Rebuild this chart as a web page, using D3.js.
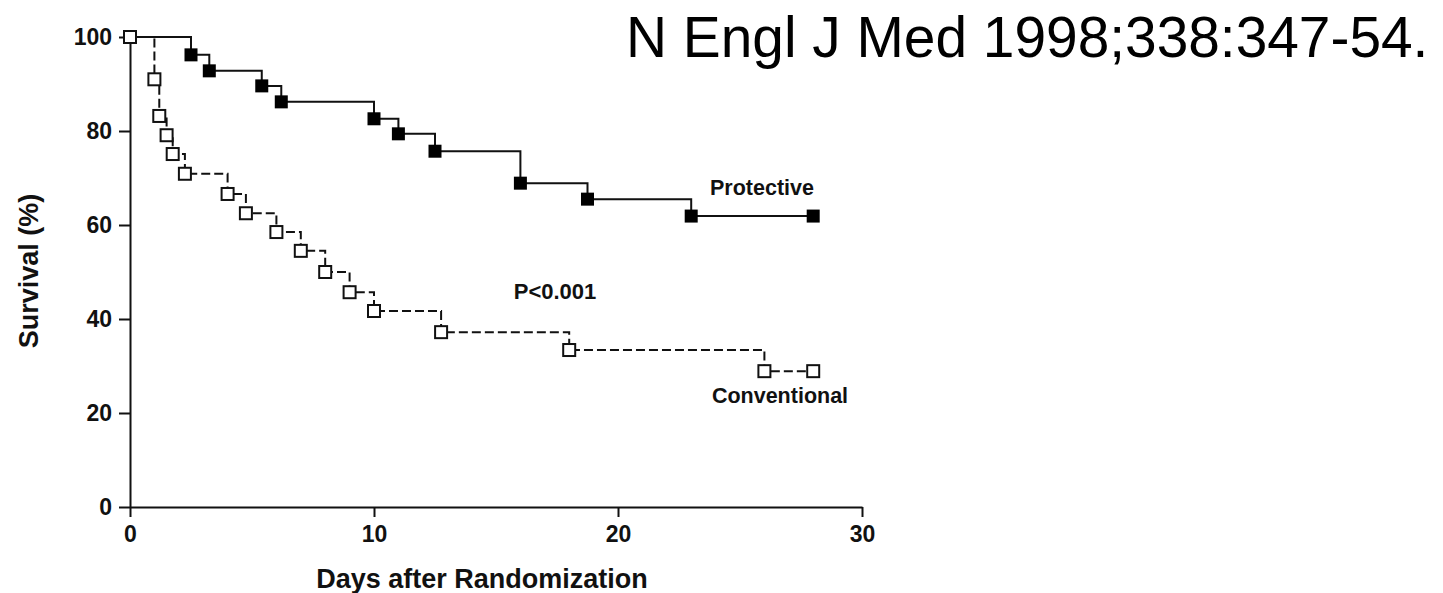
<!DOCTYPE html>
<html lang="en">
<head>
<meta charset="UTF-8" />
<title>Survival</title>
<script src="https://d3js.org/d3.v7.min.js"></script>
<style>
  body { margin: 0; background: #fff; }
  svg { display: block; font-family: "Liberation Sans", Arial, sans-serif; }
  .axis path, .axis line { stroke: #111; stroke-width: 2; }
  .axis text { font-size: 23px; font-weight: bold; fill: #111; }
</style>
</head>
<body>
<svg width="1443" height="593"></svg>
<script>
// Data
const protectiveDays = [2.5, 3.25, 5.4, 6.2, 10, 11, 12.5, 16, 18.75, 23, 28];
const protectiveSurv = [96.2, 92.8, 89.6, 86.2, 82.6, 79.4, 75.7, 68.9, 65.5, 61.9, 61.9];

const conventionalDays = [0, 1, 1.2, 1.5, 1.75, 2.25, 4, 4.75, 6, 7, 8, 9, 10, 12.75, 18, 26, 28];
const conventionalSurv = [100, 91, 83.2, 79.1, 75.1, 70.9, 66.6, 62.5, 58.5, 54.5, 50, 45.7, 41.7, 37.2, 33.4, 28.9, 28.9];

const xTicks = [0, 10, 20, 30];
const yTicks = [0, 20, 40, 60, 80, 100];

const svg = d3.select("svg");

const x = d3.scaleLinear().domain([0, 30]).range([130, 862]);
const y = d3.scaleLinear().domain([0, 100]).range([507, 37]);

// axes
svg.append("g")
  .attr("class", "axis")
  .attr("transform", "translate(0,507)")
  .call(d3.axisBottom(x).tickValues(xTicks).tickSize(10).tickSizeOuter(0).tickPadding(9));

svg.append("g")
  .attr("class", "axis")
  .attr("transform", "translate(130,0)")
  .call(d3.axisLeft(y).tickValues(yTicks).tickSize(11).tickSizeOuter(0).tickPadding(7));

// step path: start at 100%, horizontal then drop at each event
function stepPoints(days, surv) {
  const pts = [[0, 100]];
  days.forEach((d, i) => {
    pts.push([d, pts[pts.length - 1][1]]);
    pts.push([d, surv[i]]);
  });
  return pts;
}

const line = d3.line().x(d => x(d[0])).y(d => y(d[1]));

svg.append("path")
  .datum(stepPoints(protectiveDays, protectiveSurv))
  .attr("d", line)
  .attr("fill", "none")
  .attr("stroke", "#111")
  .attr("stroke-width", 2);

svg.append("path")
  .datum(stepPoints(conventionalDays, conventionalSurv))
  .attr("d", line)
  .attr("fill", "none")
  .attr("stroke", "#111")
  .attr("stroke-width", 2)
  .attr("stroke-dasharray", "9,4");

// markers
const filled = 13, open = 12;
svg.selectAll(".prot")
  .data(protectiveDays.map((d, i) => [d, protectiveSurv[i]]))
  .enter().append("rect")
  .attr("class", "prot")
  .attr("x", d => x(d[0]) - filled / 2)
  .attr("y", d => y(d[1]) - filled / 2)
  .attr("width", filled)
  .attr("height", filled)
  .attr("fill", "#000");

svg.selectAll(".conv")
  .data(conventionalDays.map((d, i) => [d, conventionalSurv[i]]))
  .enter().append("rect")
  .attr("class", "conv")
  .attr("x", d => x(d[0]) - open / 2)
  .attr("y", d => y(d[1]) - open / 2)
  .attr("width", open)
  .attr("height", open)
  .attr("fill", "#fff")
  .attr("stroke", "#111")
  .attr("stroke-width", 2);

// labels
svg.append("text")
  .attr("x", 762).attr("y", 195)
  .attr("text-anchor", "middle")
  .attr("font-size", 21.5).attr("font-weight", "bold").attr("fill", "#111")
  .text("Protective");

svg.append("text")
  .attr("x", 780).attr("y", 403)
  .attr("text-anchor", "middle")
  .attr("font-size", 21.5).attr("font-weight", "bold").attr("fill", "#111")
  .text("Conventional");

svg.append("text")
  .attr("x", 555).attr("y", 299)
  .attr("text-anchor", "middle")
  .attr("font-size", 22).attr("font-weight", "bold").attr("fill", "#111")
  .text("P<0.001");

svg.append("text")
  .attr("transform", "translate(38,271) rotate(-90)")
  .attr("text-anchor", "middle")
  .attr("font-size", 27).attr("font-weight", "bold").attr("fill", "#111")
  .text("Survival (%)");

svg.append("text")
  .attr("x", 482).attr("y", 588)
  .attr("text-anchor", "middle")
  .attr("font-size", 27).attr("font-weight", "bold").attr("fill", "#111")
  .text("Days after Randomization");

// citation, slightly condensed like the original
svg.append("text")
  .attr("transform", "translate(626,57) scale(0.98,1)")
  .attr("font-size", 58).attr("fill", "#000")
  .text("N Engl J Med 1998;338:347-54.");
</script>
</body>
</html>
